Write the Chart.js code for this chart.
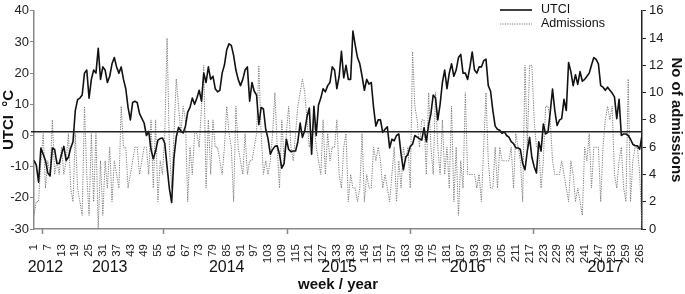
<!DOCTYPE html>
<html>
<head>
<meta charset="utf-8">
<script src="https://cdn.jsdelivr.net/npm/chart.js@4.4.1/dist/chart.umd.min.js"></script>
<style>
  html, body { margin: 0; padding: 0; background: #fff; }
  #wrap { width: 685px; height: 294px; }
</style>
</head>
<body>
<div id="wrap"><canvas id="chartUtci"></canvas></div>
<script>
// weekly UTCI (°C), weeks 1..266
var utci = [
  -8, -9.5, -15, -4, -6, -8, -12, -13, -4, -4.5, -9, -9, -6, -3.5, -8, -7, -4, -2, 8, 11.5,
  12, 13, 20, 21, 12, 18, 21, 20, 28, 18, 22, 21, 17, 19, 23, 25, 22, 20, 22, 18,
  15, 9, 5, 10.6, 11,
  10.5, 7, 5.5, 4, 0, 1.3, -4.5, -7.5, -5, -1.5, -1, -0.8, -2.5, -10, -17, -21.5, -7, -0.5, 2.6, 1.5,
  0.8, 3, 7.5, 9, 12, 10, 12, 14.5, 11, 20, 17, 22, 18, 19, 15, 14, 14.5, 20, 22.6, 27.5,
  29.4, 28.9, 25.7, 21, 18,
  16, 18, 21, 22, 11, 17, 14.2, 13, 3.5, 9, 8.5, 2, -1, -6, -4.5, -3.5, -3.3, -6, -10.5, -9,
  -1.2, -4.5, -5.2, -5, -5, -2, 4, -0.6, 1.5, 6, 8.8, -6, 9.4, 0, 9.8, 12, 15, 14, 16, 17,
  22, 21, 15, 19,
  27, 18.5, 22.5, 18, 18, 33.5, 29, 25, 23, 19, 14.5, 18, 16.5, 17, 9, 3, 5, 5, 1, 2,
  2.8, -4, -1.2, -1.7, 0, 0.5, -6, -11, -7, -6, -3.5, -2.8, 0, -0.5, -1, -1.5, 2.5, -2, 3.5, 7,
  13, 12, 5, 10, 17,
  21, 15, 20, 23, 19, 21, 25, 26, 20, 20, 18, 22, 26.8, 21, 20, 22, 22, 24, 24.5, 16,
  14.2, 8, 3, 2, 1.7, 0.7, 1.2, 0, -0.5, -2, -2.6, -4, -4, -4.5, -9, -11, -5, -0.6, -7, -10,
  -12, -2, -5, 3.7,
  0.5, 1, 7.4, 14.9, 8, 3.2, 4.9, 5.4, 11.6, 8, 23.4, 20.5, 16, 19.5, 16.4, 20.5, 17.4, 18, 19, 20,
  22.6, 25, 24.4, 23, 16, 15.5, 14.5, 15.5, 14.5, 13.6, 12.4, 5.4, 11.6, 0, 0.5, 0.5, 0, -1.2, -2.8, -3.3,
  -3.3, -4.4, 0
];

// weekly number of admissions, weeks 1..266
var admissions = [
  1, 2, 2, 5, 7, 3, 5, 4, 8, 4, 5, 4, 6, 4, 5, 7, 3, 2, 7, 3, 2, 1, 9, 4, 1, 7, 2, 7, 0, 5,
  1, 5, 3, 6, 2, 5, 4, 3, 9, 6, 6, 3, 4, 5, 6,
  6, 4, 5, 6, 6, 4, 8, 3, 8, 2, 5, 4, 7, 14,
  6, 3, 7, 11, 9, 7, 9, 8, 2, 6, 4, 7, 7, 6, 9, 12, 3, 8, 4, 8, 6, 6, 5, 4, 6, 9, 7, 6, 2, 9,
  6, 5, 4, 7, 4, 5, 5, 6, 7, 12, 7, 4, 5, 4, 5, 7, 10, 6, 3, 8, 5, 7, 9, 6, 5, 7, 9, 10, 11, 10,
  8, 6, 7, 8, 6, 5, 4, 8, 4, 7, 5, 6, 6, 8, 4,
  3, 6, 7, 2, 4, 3, 3, 2, 3, 7, 2, 4, 3, 3, 6, 5, 6, 5, 3, 4, 3, 2, 4, 6, 2, 5, 3, 6, 5, 6, 3,
  13, 9, 8, 6, 8, 8, 4, 10, 6, 4, 10, 6, 4, 8,
  4, 6, 3, 9, 2, 6, 1, 5, 3, 10, 4, 4, 4, 4, 3, 4, 2, 6, 10, 5, 3, 3, 6, 3, 6, 5, 5, 5, 5, 6,
  3, 7, 6, 5, 2,
  12, 6, 12, 12, 8, 6, 6, 3,
  5, 9, 9, 8, 5, 4, 4, 4, 5, 4, 3, 2, 5, 4, 2, 3, 2, 1, 6, 5, 7, 3, 6, 6, 6, 2, 6, 8, 9, 8,
  9, 4, 3, 5, 6, 3, 2, 11,
  2, 5, 6, 6, 4, 0
];

var weeks = utci.map(function (v, i) { return i + 1; });

var weekTicks = [1, 7, 13, 19, 25, 31, 37, 43, 49, 55, 61, 67, 73, 79, 85, 91, 97, 103, 109, 115,
  121, 127, 133, 139, 145, 151, 157, 163, 169, 175, 181, 187, 193, 199, 205, 211, 217, 223, 229, 235,
  241, 247, 253, 259, 265];

var yearLabels = ['2012', '2013', '2014', '2015', '2016', '2017'];
var yearLabelWeeks = [6, 34, 85, 134, 190, 250];
var yearTickWeeks = [4.6, 57.4, 111.2, 164.9, 218.4];

var refLineUtci = 1.2;

var FONT = '"Liberation Sans", Arial, sans-serif';
Chart.defaults.font.family = FONT;

var extras = {
  id: 'extras',
  afterDatasetsDraw: function (chart) {
    var ctx = chart.ctx, area = chart.chartArea;
    var y = chart.scales.y.getPixelForValue(refLineUtci);
    ctx.save();
    ctx.strokeStyle = '#222';
    ctx.lineWidth = 1.3;
    ctx.beginPath();
    ctx.moveTo(area.left - 3, y);
    ctx.lineTo(area.right, y);
    ctx.stroke();
    ctx.restore();
  },
  afterDraw: function (chart) {
    var ctx = chart.ctx, area = chart.chartArea, xs = chart.scales.x;
    ctx.save();

    // year tick marks on the week axis
    ctx.strokeStyle = '#888';
    ctx.lineWidth = 1.5;
    yearTickWeeks.forEach(function (w) {
      var x = Math.round(xs.getPixelForValue(w)) + 0.5;
      ctx.beginPath();
      ctx.moveTo(x, area.bottom);
      ctx.lineTo(x, area.bottom + 5);
      ctx.stroke();
    });

    // year labels
    ctx.fillStyle = '#111';
    ctx.font = '16px ' + FONT;
    ctx.textAlign = 'center';
    ctx.textBaseline = 'middle';
    yearLabels.forEach(function (t, i) {
      ctx.fillText(t, xs.getPixelForValue(yearLabelWeeks[i]), 268);
    });

    // axis title
    ctx.font = 'bold 15px ' + FONT;
    ctx.fillText('week / year', (area.left + area.right) / 2, 285);

    // legend
    ctx.font = '12.5px ' + FONT;
    ctx.textAlign = 'left';
    chart.data.datasets.forEach(function (ds, i) {
      var ly = 10 + i * 14;
      ctx.strokeStyle = ds.borderColor;
      ctx.lineWidth = ds.borderWidth;
      ctx.setLineDash(ds.borderDash || []);
      ctx.beginPath();
      ctx.moveTo(area.right - 142, ly);
      ctx.lineTo(area.right - 110, ly);
      ctx.stroke();
      ctx.setLineDash([]);
      ctx.fillStyle = '#111';
      ctx.fillText(ds.label, area.right - 101, ly);
    });
    ctx.restore();
  }
};

var ctx = document.getElementById('chartUtci');
new Chart(ctx, {
  type: 'line',
  data: {
    datasets: [
      {
        label: 'UTCI',
        data: weeks.map(function (w, i) { return { x: w, y: utci[i] }; }),
        borderColor: '#111',
        borderWidth: 1.6,
        borderJoinStyle: 'round',
        pointRadius: 0,
        yAxisID: 'y'
      },
      {
        label: 'Admissions',
        data: weeks.map(function (w, i) { return { x: w, y: admissions[i] }; }),
        borderColor: '#7a7a7a',
        borderWidth: 1,
        borderDash: [1.2, 1.2],
        pointRadius: 0,
        yAxisID: 'y2'
      }
    ]
  },
  options: {
    responsive: true,
    maintainAspectRatio: false,
    animation: false,
    devicePixelRatio: 1,
    layout: { padding: { top: 6, left: 0, right: 0, bottom: 0 } },
    plugins: {
      legend: { display: false },
      tooltip: { enabled: false }
    },
    scales: {
      x: {
        type: 'linear',
        min: 1,
        max: 266,
        afterBuildTicks: function (s) {
          s.ticks = weekTicks.map(function (v) { return { value: v }; });
        },
        afterFit: function (s) { s.height = 65; },
        grid: { display: false },
        border: { color: '#888', width: 1.5 },
        ticks: {
          autoSkip: false,
          minRotation: 90,
          maxRotation: 90,
          padding: 7,
          color: '#222',
          font: { size: 11.5 }
        }
      },
      y: {
        position: 'left',
        min: -30,
        max: 40,
        afterFit: function (s) { s.width = 34; },
        ticks: { stepSize: 10, padding: 1, color: '#222', font: { size: 13 } },
        grid: { drawOnChartArea: false, tickLength: 4, color: '#888' },
        border: { color: '#888', width: 1.5 },
        title: { display: true, text: 'UTCI  °C', color: '#111', padding: 0, font: { size: 15, weight: 'bold' } }
      },
      y2: {
        position: 'right',
        min: 0,
        max: 16,
        afterFit: function (s) { s.width = 43; },
        ticks: { stepSize: 2, padding: 3, color: '#222', font: { size: 13 } },
        grid: { drawOnChartArea: false, tickLength: 4, color: '#222' },
        border: { color: '#222', width: 1.5 },
        title: { display: true, text: 'No of admissions', color: '#111', padding: 0, font: { size: 15, weight: 'bold' } }
      }
    }
  },
  plugins: [extras]
});
</script>
</body>
</html>
